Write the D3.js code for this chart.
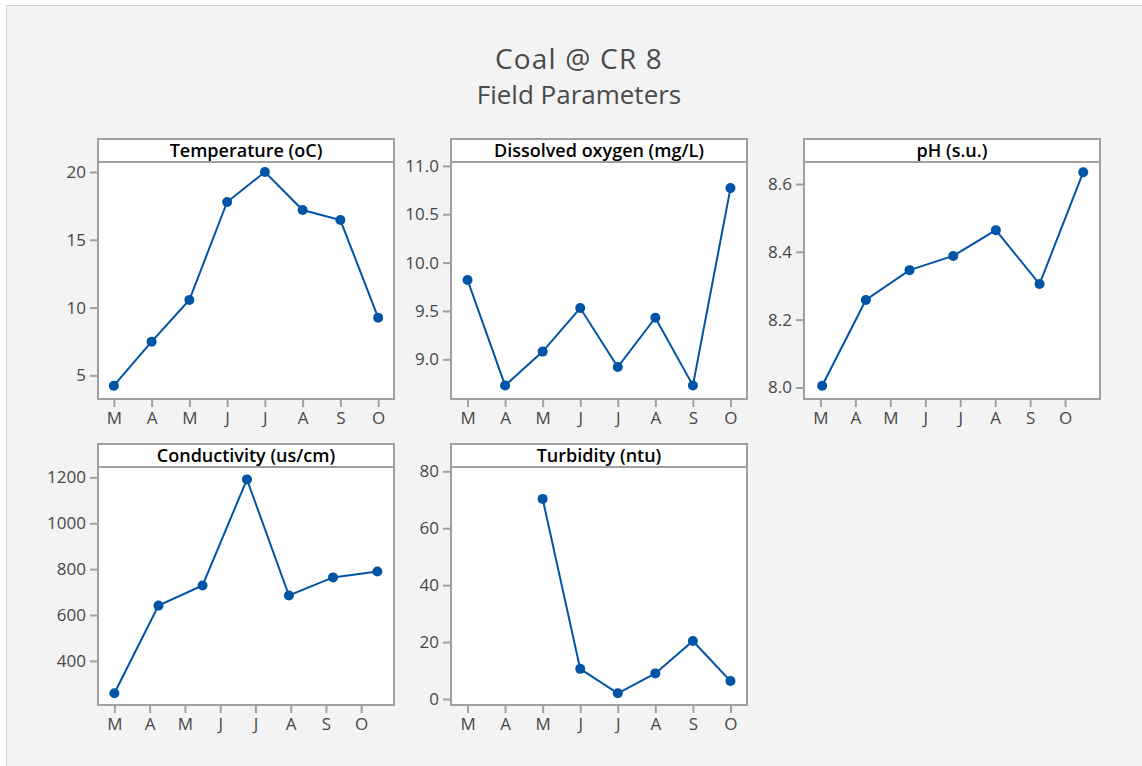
<!DOCTYPE html>
<html>
<head>
<meta charset="utf-8">
<script src="https://cdn.jsdelivr.net/npm/d3@7"></script>
<style>
  body { margin: 0; background: #ffffff; }
  svg { display: block; font-family: "Open Sans", "Noto Sans", sans-serif; }
  .frame { fill: #ffffff; stroke: #a0a0a0; stroke-width: 2px; }
  .axis path { display: none; }
  .axis line { stroke: #a0a0a0; stroke-width: 2px; }
  .axis text { fill: #474747; font-size: 17px; font-family: "Open Sans", sans-serif; }
  .header text { fill: #000; font-size: 18px; font-weight: 600; }
</style>
</head>
<body>
<svg width="1142" height="766"></svg>
<script>
// month tick labels (shared by every panel)
var months = ["M", "A", "M", "J", "J", "A", "S", "O"];

// Temperature (oC)
var tempX = [0, 1, 2, 3, 4, 5, 6, 7];
var tempY = [4.24, 7.49, 10.56, 17.79, 20.0, 17.2, 16.46, 9.26];
var tempTicks = [5, 10, 15, 20];

// Dissolved oxygen (mg/L)
var doX = [0, 1, 2, 3, 4, 5, 6, 7];
var doY = [9.82, 8.73, 9.08, 9.53, 8.92, 9.43, 8.73, 10.77];
var doTicks = [9.0, 9.5, 10.0, 10.5, 11.0];

// pH (s.u.)
var phX = [0.05, 1.3, 2.55, 3.8, 5.02, 6.27, 7.52];
var phY = [8.005, 8.258, 8.346, 8.388, 8.464, 8.305, 8.635];
var phTicks = [8.0, 8.2, 8.4, 8.6];

// Conductivity (us/cm)
var condX = [0, 1.25, 2.5, 3.76, 4.95, 6.2, 7.46];
var condY = [259, 641, 729, 1191, 685, 764, 790];
var condTicks = [400, 600, 800, 1000, 1200];

// Turbidity (ntu)
var turbX = [2, 3, 4, 5, 6, 7];
var turbY = [70.3, 10.6, 2.0, 9.0, 20.4, 6.3];
var turbTicks = [0, 20, 40, 60, 80];

var panels = [
  { title: "Temperature (oC)", xs: tempX, ys: tempY, ticks: tempTicks, fmt: d3.format("d"),
    xdom: [-0.42, 7.42], ydom: [3.26, 20.74], col: 0, row: 0 },
  { title: "Dissolved oxygen (mg/L)", xs: doX, ys: doY, ticks: doTicks, fmt: d3.format(".1f"),
    xdom: [-0.44, 7.44], ydom: [8.59, 11.04], col: 1, row: 0 },
  { title: "pH (s.u.)", xs: phX, ys: phY, ticks: phTicks, fmt: d3.format(".1f"),
    xdom: [-0.47, 8.0], ydom: [7.966, 8.665], col: 2, row: 0 },
  { title: "Conductivity (us/cm)", xs: condX, ys: condY, ticks: condTicks, fmt: d3.format("d"),
    xdom: [-0.465, 7.93], ydom: [208, 1245], col: 0, row: 1 },
  { title: "Turbidity (ntu)", xs: turbX, ys: turbY, ticks: turbTicks, fmt: d3.format("d"),
    xdom: [-0.44, 7.44], ydom: [-2.1, 81.5], col: 1, row: 1 }
];

// layout of the panel grid
var colLeft = [98, 451, 804];
var panelW = 296;
var rowTop = [139, 444];
var rowBottom = [399, 705];
var headerH = 23;
var blue = "#0054a6";

var svg = d3.select("svg");

// background
svg.append("rect")
  .attr("x", 0).attr("y", 0)
  .attr("width", 1142).attr("height", 766)
  .attr("fill", "#ffffff");
svg.append("rect")
  .attr("x", 6.5).attr("y", 5.5)
  .attr("width", 1142).attr("height", 770)
  .attr("fill", "#f3f3f3")
  .attr("stroke", "#d2d2d2");

// titles
svg.append("text")
  .attr("x", 579).attr("y", 69)
  .attr("text-anchor", "middle")
  .style("font-size", "28px")
  .style("letter-spacing", "1.2px")
  .style("fill", "#4a4a4a")
  .text("Coal @ CR 8");

svg.append("text")
  .attr("x", 579).attr("y", 104)
  .attr("text-anchor", "middle")
  .style("font-size", "26px")
  .style("fill", "#4a4a4a")
  .text("Field Parameters");

panels.forEach(function(p) {
  var left = colLeft[p.col];
  var top = rowTop[p.row];
  var bottom = rowBottom[p.row];
  var plotTop = top + headerH;

  var x = d3.scaleLinear().domain(p.xdom).range([left, left + panelW]);
  var y = d3.scaleLinear().domain(p.ydom).range([bottom, plotTop]);

  var g = svg.append("g").attr("class", "panel");

  g.append("rect")
    .attr("class", "frame")
    .attr("x", left).attr("y", top)
    .attr("width", panelW).attr("height", bottom - top);

  var header = g.append("g").attr("class", "header");
  header.append("line")
    .attr("x1", left).attr("x2", left + panelW)
    .attr("y1", plotTop).attr("y2", plotTop)
    .attr("stroke", "#a0a0a0").attr("stroke-width", 2);
  header.append("text")
    .attr("x", left + panelW / 2)
    .attr("y", top + 18)
    .attr("text-anchor", "middle")
    .text(p.title);

  g.append("g")
    .attr("class", "axis")
    .attr("transform", "translate(" + (left - 1) + ",0)")
    .call(d3.axisLeft(y).tickValues(p.ticks).tickFormat(p.fmt).tickSize(7).tickPadding(4));

  g.append("g")
    .attr("class", "axis")
    .attr("transform", "translate(0," + (bottom + 1) + ")")
    .call(d3.axisBottom(x).tickValues(d3.range(months.length))
      .tickFormat(function(d) { return months[d]; })
      .tickSize(7).tickPadding(5));

  var pts = p.xs.map(function(v, i) { return [v, p.ys[i]]; });

  g.append("path")
    .datum(pts)
    .attr("fill", "none")
    .attr("stroke", blue)
    .attr("stroke-width", 2)
    .attr("d", d3.line()
      .x(function(d) { return x(d[0]); })
      .y(function(d) { return y(d[1]); }));

  g.selectAll("circle")
    .data(pts)
    .enter()
    .append("circle")
    .attr("cx", function(d) { return x(d[0]); })
    .attr("cy", function(d) { return y(d[1]); })
    .attr("r", 5)
    .attr("fill", blue);
});
</script>
</body>
</html>
